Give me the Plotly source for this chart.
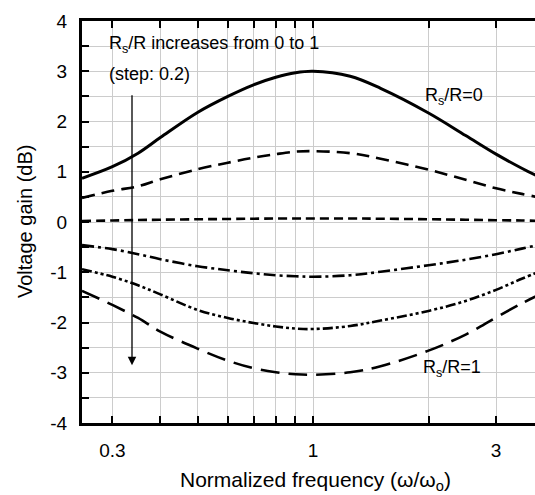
import plotly.graph_objects as go
import math

# ---- data ----
freq = [0.25, 0.3, 0.35, 0.4, 0.5, 0.6, 0.7, 0.8, 0.9, 1.0, 1.25, 1.5, 2.0, 2.5, 3.0, 3.5, 4.0]
gain_r00 = [0.87, 1.10, 1.37, 1.68, 2.18, 2.50, 2.73, 2.88, 2.97, 3.00, 2.90, 2.66, 2.17, 1.72, 1.35, 1.07, 0.85]
gain_r02 = [0.48, 0.62, 0.71, 0.85, 1.05, 1.18, 1.28, 1.35, 1.40, 1.41, 1.37, 1.26, 1.04, 0.84, 0.67, 0.56, 0.47]
gain_r04 = [0.02, 0.03, 0.04, 0.045, 0.055, 0.06, 0.065, 0.07, 0.07, 0.07, 0.07, 0.065, 0.055, 0.045, 0.035, 0.03, 0.02]
gain_r06 = [-0.46, -0.54, -0.64, -0.74, -0.88, -0.96, -1.02, -1.06, -1.08, -1.09, -1.06, -0.99, -0.86, -0.75, -0.64, -0.53, -0.43]
gain_r08 = [-0.94, -1.09, -1.26, -1.44, -1.75, -1.91, -2.01, -2.08, -2.12, -2.13, -2.07, -1.96, -1.77, -1.57, -1.35, -1.13, -0.95]
gain_r10 = [-1.37, -1.65, -1.91, -2.18, -2.52, -2.76, -2.91, -2.99, -3.03, -3.04, -2.99, -2.87, -2.56, -2.24, -1.90, -1.62, -1.40]

x_tickvals = [0.3, 1, 3]
x_ticktext = ["0.3", "1", "3"]
x_minorvals = [0.4, 0.5, 0.6, 0.7, 0.8, 0.9, 2]
y_tickvals = [-4, -3, -2, -1, 0, 1, 2, 3, 4]
y_ticktext = ["-4", "-3", "-2", "-1", "0", "1", "2", "3", "4"]

series = [
    (gain_r00, "solid", 3),
    (gain_r02, "13px,7px", 2.6),
    (gain_r04, "9px,5px", 2.6),
    (gain_r06, "12px,4px,3px,4px", 2.6),
    (gain_r08, "10px,3px,3px,3px,3px,3px", 2.6),
    (gain_r10, "19px,9px", 2.6),
]

FONT = "Liberation Sans, Arial, Helvetica, sans-serif"

fig = go.Figure()
for ys, dash, w in series:
    fig.add_trace(go.Scatter(x=freq, y=ys, mode="lines",
                             line=dict(color="black", width=w, dash=dash, shape="spline", smoothing=1.0),
                             showlegend=False, hoverinfo="skip"))

# plot geometry: left 82, top 21, bottom 423 ; x=1 at px 313
x_left = math.log10(0.25)
px_per_decade = (313 - 82) / (-x_left)
x_right = (535 - 313) / px_per_decade

tick_common = dict(ticks="inside", ticklen=7, tickwidth=2, tickcolor="black")
fig.update_layout(
    width=535, height=495,
    margin=dict(l=82, r=0, t=21, b=72),
    paper_bgcolor="white", plot_bgcolor="white",
    font=dict(family=FONT, size=19, color="black"),
    xaxis=dict(type="log", range=[x_left, x_right],
               tickvals=x_tickvals, ticktext=x_ticktext,
               showgrid=True, gridcolor="#cccccc", gridwidth=1,
               minor=dict(tickvals=x_minorvals, showgrid=True, gridcolor="#cccccc", gridwidth=1, **tick_common),
               showline=True, linecolor="black", linewidth=3, mirror="ticks",
               tickfont=dict(size=19), ticklabelstandoff=8, zeroline=False, **tick_common),
    yaxis=dict(range=[-4, 4], tickvals=y_tickvals, ticktext=y_ticktext,
               showgrid=True, gridcolor="#cccccc", gridwidth=1,
               minor=dict(dtick=0.5, showgrid=True, gridcolor="#cccccc", gridwidth=1, **tick_common),
               showline=True, linecolor="black", linewidth=3, mirror=False,
               tickfont=dict(size=19), ticklabelstandoff=8, zeroline=False, **tick_common),
)

def px(xp):
    return (xp - 82) / (535 - 82)

def py(yp):
    return (423 - yp) / (423 - 21)

annos = [
    dict(text="R<sub>s</sub>/R increases from 0 to 1", x=px(107), y=py(45), xanchor="left", yanchor="middle", size=18),
    dict(text="(step: 0.2)", x=px(107), y=py(74), xanchor="left", yanchor="middle", size=18),
    dict(text="R<sub>s</sub>/R=0", x=px(454), y=py(96), xanchor="center", yanchor="middle", size=18),
    dict(text="R<sub>s</sub>/R=1", x=px(452), y=py(368), xanchor="center", yanchor="middle", size=18),
    dict(text="Normalized frequency (ω/ω<sub>o</sub>)", x=px(315), y=py(481), xanchor="center", yanchor="middle", size=21),
    dict(text="Voltage gain (dB)", x=px(25), y=py(222), xanchor="center", yanchor="middle", textangle=-90, size=20),
]
for a in annos:
    sz = a.pop("size")
    fig.add_annotation(xref="paper", yref="paper", showarrow=False,
                       font=dict(size=sz, family=FONT, color="black"), **a)

# arrow (tail near top, head pointing down)
arrow_x = (132 - 313) / px_per_decade
fig.add_annotation(xref="x", yref="y", axref="x", ayref="y",
                   x=arrow_x, y=-2.85, ax=arrow_x, ay=2.55,
                   showarrow=True, arrowhead=2, arrowsize=1.3, arrowwidth=1.3,
                   arrowcolor="black", text="", standoff=0, startstandoff=0)

fig.write_html("out.html", config={"displayModeBar": False},
               post_script="document.body.style.margin='0';document.body.style.overflow='hidden';")
